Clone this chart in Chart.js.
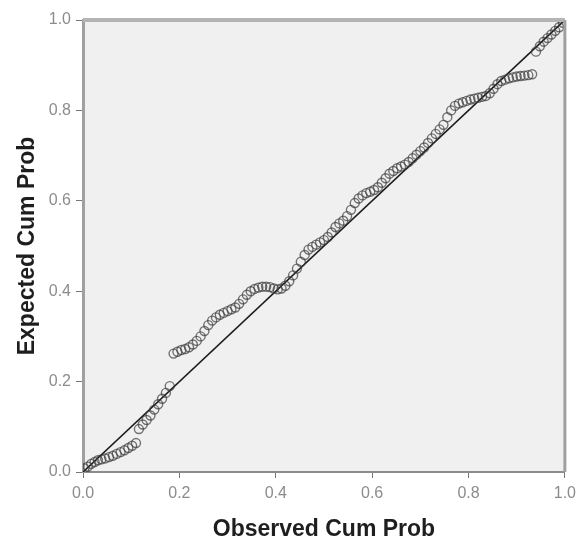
<!DOCTYPE html>
<html>
<head>
<meta charset="utf-8">
<script src="https://cdn.jsdelivr.net/npm/chart.js@4"></script>
<style>
  html, body { margin: 0; padding: 0; background: #ffffff; }
  #wrap { width: 582px; height: 544px; }
</style>
</head>
<body>
<div id="wrap"><canvas id="chart" width="582" height="544"></canvas></div>
<script>
// --- Data ---
const observedCumProb = [
  0.003, 0.010, 0.017, 0.024, 0.031, 0.038, 0.046, 0.054, 0.062, 0.070,
  0.078, 0.086, 0.094, 0.102, 0.110, 0.116, 0.124, 0.132, 0.140, 0.148,
  0.156, 0.164, 0.172, 0.180, 0.188, 0.196, 0.204, 0.212, 0.220, 0.228,
  0.236, 0.244, 0.252, 0.260, 0.268, 0.276, 0.284, 0.292, 0.300, 0.308,
  0.316, 0.324, 0.332, 0.340, 0.348, 0.356, 0.364, 0.372, 0.380, 0.388,
  0.396, 0.404, 0.412, 0.420, 0.428, 0.436, 0.444, 0.452, 0.460, 0.468,
  0.476, 0.484, 0.492, 0.500, 0.508, 0.516, 0.524, 0.532, 0.540, 0.548,
  0.556, 0.564, 0.572, 0.580, 0.588, 0.596, 0.604, 0.612, 0.620, 0.628,
  0.636, 0.644, 0.652, 0.660, 0.668, 0.676, 0.684, 0.692, 0.700, 0.708,
  0.716, 0.724, 0.732, 0.740, 0.748, 0.756, 0.764, 0.772, 0.780, 0.788,
  0.796, 0.804, 0.812, 0.820, 0.828, 0.836, 0.844, 0.852, 0.860, 0.868,
  0.876, 0.884, 0.892, 0.900, 0.908, 0.916, 0.924, 0.932, 0.940, 0.948,
  0.956, 0.964, 0.972, 0.980, 0.988, 0.996
];
const expectedCumProb = [
  0.008, 0.012, 0.018, 0.022, 0.026, 0.028, 0.030, 0.033, 0.036, 0.040,
  0.044, 0.048, 0.053, 0.058, 0.064, 0.095, 0.105, 0.115, 0.125, 0.138,
  0.150, 0.162, 0.175, 0.190, 0.262, 0.266, 0.270, 0.272, 0.276, 0.282,
  0.290, 0.300, 0.312, 0.325, 0.335, 0.342, 0.348, 0.352, 0.356, 0.360,
  0.364, 0.372, 0.382, 0.392, 0.400, 0.405, 0.408, 0.410, 0.410, 0.409,
  0.406, 0.404, 0.406, 0.412, 0.422, 0.435, 0.450, 0.465, 0.480, 0.492,
  0.498, 0.503, 0.508, 0.513, 0.520, 0.530, 0.542, 0.550, 0.556, 0.566,
  0.580, 0.595, 0.605, 0.612, 0.617, 0.620, 0.624, 0.630, 0.640, 0.650,
  0.660, 0.666, 0.672, 0.676, 0.680, 0.686, 0.694, 0.702, 0.710, 0.718,
  0.728, 0.738, 0.748, 0.758, 0.768, 0.785, 0.800, 0.810, 0.815, 0.818,
  0.821, 0.824, 0.826, 0.828, 0.830, 0.832, 0.838, 0.848, 0.858, 0.865,
  0.868, 0.871, 0.873, 0.875, 0.876, 0.877, 0.878, 0.880, 0.930, 0.942,
  0.952, 0.960, 0.968, 0.976, 0.984, 0.994
];
const referenceLine = [0, 1];
const tickValues = [0, 0.2, 0.4, 0.6, 0.8, 1.0];

const points = observedCumProb.map((x, i) => ({ x: x, y: expectedCumProb[i] }));
const diagonal = referenceLine.map(v => ({ x: v, y: v }));

// fills the plot area grey and draws the frame on top/right
const plotFrame = {
  id: 'plotFrame',
  beforeDraw(chart) {
    const { ctx, chartArea: a } = chart;
    ctx.save();
    ctx.fillStyle = '#f0f0f0';
    ctx.fillRect(a.left, a.top, a.right - a.left, a.bottom - a.top);
    ctx.restore();
  },
  afterDraw(chart) {
    const { ctx, chartArea: a } = chart;
    ctx.save();
    ctx.strokeStyle = '#b4b4b4';
    ctx.lineWidth = 4;
    ctx.beginPath();
    ctx.moveTo(a.left, a.top);
    ctx.lineTo(a.right, a.top);
    ctx.stroke();
    ctx.strokeStyle = '#a0a0a0';
    ctx.lineWidth = 3;
    ctx.beginPath();
    ctx.moveTo(a.right, a.top);
    ctx.lineTo(a.right, a.bottom);
    ctx.stroke();
    ctx.restore();
  }
};

const tickFont = { family: 'Liberation Sans, Arial, sans-serif', size: 16 };
const titleFont = { family: 'Liberation Sans, Arial, sans-serif', size: 23, weight: 'bold' };

new Chart(document.getElementById('chart').getContext('2d'), {
  type: 'scatter',
  data: {
    datasets: [
      {
        data: points,
        pointStyle: 'circle',
        pointRadius: 4.5,
        borderColor: 'rgba(60,60,60,0.7)',
        backgroundColor: 'rgba(0,0,0,0)',
        borderWidth: 1.4
      },
      {
        type: 'line',
        data: diagonal,
        borderColor: '#1a1a1a',
        borderWidth: 1.6,
        pointRadius: 0
      }
    ]
  },
  options: {
    responsive: false,
    animation: false,
    layout: { padding: { top: 20, right: 15, left: 0, bottom: 0 } },
    plugins: { legend: { display: false }, tooltip: { enabled: false } },
    scales: {
      x: {
        type: 'linear',
        min: 0,
        max: 1,
        afterBuildTicks: s => { s.ticks = tickValues.map(v => ({ value: v })); },
        afterFit: s => { s.height = 72; },
        ticks: { color: '#8c8c8c', font: tickFont, padding: 6, callback: v => v.toFixed(1), maxRotation: 0 },
        grid: { drawOnChartArea: false, drawTicks: true, tickLength: 6, color: '#777777' },
        border: { display: true, color: '#8c8c8c', width: 2 },
        title: { display: true, text: 'Observed Cum Prob', color: '#1e1e1e', font: titleFont, padding: { top: 0, bottom: 1 } }
      },
      y: {
        type: 'linear',
        min: 0,
        max: 1,
        afterBuildTicks: s => { s.ticks = tickValues.map(v => ({ value: v })); },
        afterFit: s => { s.width = 83; },
        ticks: { color: '#8c8c8c', font: tickFont, padding: 5, callback: v => v.toFixed(1) },
        grid: { drawOnChartArea: false, drawTicks: true, tickLength: 7, color: '#777777' },
        border: { display: true, color: '#a0a0a0', width: 3 },
        title: { display: true, text: 'Expected Cum Prob', color: '#1e1e1e', font: titleFont, padding: { top: 14, bottom: 0 } }
      }
    }
  },
  plugins: [plotFrame]
});
</script>
</body>
</html>
